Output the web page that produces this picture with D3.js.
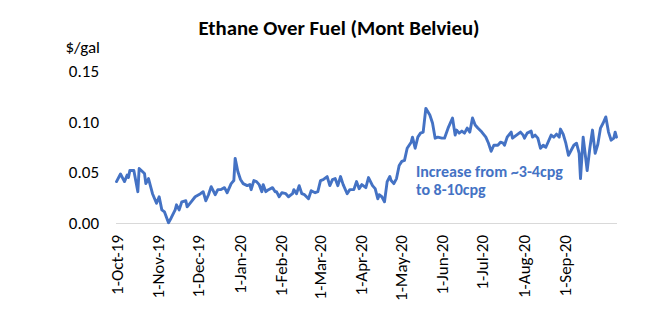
<!DOCTYPE html>
<html><head><meta charset="utf-8">
<script src="https://cdn.jsdelivr.net/npm/d3@7"></script>
<style>body{margin:0;background:#fff}svg{display:block}</style>
</head><body>
<svg id="c" width="670" height="331"></svg>
<script>
const title = "Ethane Over Fuel (Mont Belvieu)";
const yUnit = "$/gal";
const yTicks = [0, 0.05, 0.10, 0.15];
const xTickDates = ["2019-10-01","2019-11-01","2019-12-01","2020-01-01","2020-02-01","2020-03-01","2020-04-01","2020-05-01","2020-06-01","2020-07-01","2020-08-01","2020-09-01"];
const annotation = ["Increase from ~3-4cpg", "to 8-10cpg"];
const dates = ["2019-10-01","2019-10-04","2019-10-07","2019-10-09","2019-10-10","2019-10-11","2019-10-14","2019-10-17","2019-10-18","2019-10-22","2019-10-23","2019-10-25","2019-10-28","2019-10-31","2019-11-02","2019-11-04","2019-11-06","2019-11-09","2019-11-11","2019-11-14","2019-11-15","2019-11-17","2019-11-19","2019-11-22","2019-11-23","2019-11-26","2019-11-29","2019-12-03","2019-12-05","2019-12-07","2019-12-09","2019-12-11","2019-12-14","2019-12-16","2019-12-18","2019-12-21","2019-12-23","2019-12-26","2019-12-28","2019-12-29","2019-12-31","2020-01-02","2020-01-04","2020-01-07","2020-01-09","2020-01-10","2020-01-12","2020-01-14","2020-01-16","2020-01-18","2020-01-19","2020-01-21","2020-01-23","2020-01-26","2020-01-28","2020-01-29","2020-01-31","2020-02-02","2020-02-05","2020-02-07","2020-02-10","2020-02-11","2020-02-13","2020-02-15","2020-02-17","2020-02-19","2020-02-22","2020-02-24","2020-02-27","2020-02-29","2020-03-02","2020-03-04","2020-03-07","2020-03-09","2020-03-11","2020-03-13","2020-03-15","2020-03-17","2020-03-19","2020-03-22","2020-03-24","2020-03-27","2020-03-29","2020-03-31","2020-04-02","2020-04-05","2020-04-07","2020-04-10","2020-04-12","2020-04-14","2020-04-15","2020-04-17","2020-04-19","2020-04-21","2020-04-23","2020-04-24","2020-04-26","2020-04-28","2020-04-30","2020-05-02","2020-05-04","2020-05-06","2020-05-09","2020-05-10","2020-05-12","2020-05-14","2020-05-16","2020-05-18","2020-05-20","2020-05-23","2020-05-25","2020-05-27","2020-05-29","2020-06-01","2020-06-03","2020-06-06","2020-06-09","2020-06-11","2020-06-12","2020-06-14","2020-06-16","2020-06-18","2020-06-20","2020-06-22","2020-06-24","2020-06-26","2020-06-28","2020-07-01","2020-07-04","2020-07-06","2020-07-08","2020-07-10","2020-07-13","2020-07-15","2020-07-17","2020-07-18","2020-07-20","2020-07-23","2020-07-24","2020-07-27","2020-07-30","2020-08-01","2020-08-02","2020-08-04","2020-08-07","2020-08-08","2020-08-10","2020-08-12","2020-08-14","2020-08-16","2020-08-18","2020-08-19","2020-08-22","2020-08-24","2020-08-26","2020-08-28","2020-08-29","2020-08-31","2020-09-02","2020-09-04","2020-09-06","2020-09-08","2020-09-10","2020-09-12","2020-09-13","2020-09-15","2020-09-18","2020-09-20","2020-09-22","2020-09-24","2020-09-26","2020-09-28","2020-09-30","2020-10-02","2020-10-04","2020-10-06","2020-10-08","2020-10-09","2020-10-10"];
const values = [0.041,0.0485,0.041,0.0475,0.045,0.052,0.052,0.031,0.054,0.049,0.039,0.044,0.029,0.0195,0.026,0.013,0.011,0.0003,0.005,0.013,0.018,0.013,0.021,0.022,0.016,0.021,0.026,0.029,0.031,0.022,0.028,0.036,0.028,0.033,0.033,0.035,0.030,0.039,0.042,0.064,0.051,0.043,0.039,0.037,0.038,0.033,0.042,0.041,0.038,0.031,0.038,0.031,0.033,0.035,0.031,0.031,0.026,0.030,0.029,0.026,0.029,0.033,0.029,0.037,0.029,0.028,0.024,0.032,0.030,0.031,0.042,0.043,0.046,0.037,0.043,0.044,0.037,0.046,0.038,0.029,0.033,0.033,0.041,0.034,0.038,0.035,0.045,0.037,0.034,0.024,0.028,0.026,0.021,0.041,0.046,0.042,0.039,0.044,0.057,0.061,0.062,0.074,0.080,0.085,0.074,0.085,0.089,0.090,0.1135,0.107,0.099,0.084,0.085,0.084,0.084,0.095,0.104,0.087,0.092,0.089,0.091,0.089,0.094,0.090,0.104,0.097,0.094,0.090,0.085,0.079,0.071,0.077,0.077,0.080,0.079,0.077,0.085,0.090,0.084,0.087,0.090,0.087,0.084,0.089,0.091,0.085,0.087,0.084,0.074,0.077,0.075,0.078,0.087,0.085,0.088,0.085,0.093,0.088,0.079,0.067,0.072,0.077,0.079,0.069,0.044,0.085,0.052,0.074,0.092,0.069,0.078,0.094,0.099,0.105,0.090,0.082,0.084,0.090,0.085];

const parse = d3.utcParse("%Y-%m-%d");
const fmtTick = d3.utcFormat("%-d-%b-%y");
const data = dates.map((d,i)=>({date:parse(d), v:values[i]}));

const svg = d3.select("#c");
const font = "Carlito, Lato, 'Open Sans', sans-serif";
const x = d3.scaleUtc().domain([parse("2019-10-01"), parse("2020-10-10")]).range([116.5, 616.5]);
const y = d3.scaleLinear().domain([0, 0.15]).range([223, 71.5]);

svg.append("text").attr("x", 339).attr("y", 35).attr("text-anchor","middle")
  .attr("font-family", font).attr("font-weight","bold").attr("font-size", 20.8).attr("fill","#000").text(title);

svg.append("text").attr("x", 100).attr("y", 52.5).attr("text-anchor","end")
  .attr("font-family", font).attr("font-size", 17).attr("fill","#000").text(yUnit);

const yAxis = svg.append("g").attr("transform","translate(99,0)")
  .call(d3.axisLeft(y).tickValues(yTicks).tickFormat(d3.format(".2f")).tickSize(0).tickPadding(0));
yAxis.select(".domain").remove();
yAxis.selectAll("text").attr("font-family", font).attr("font-size", 17).attr("fill","#000");

const xAxis = svg.append("g").attr("transform","translate(0,223)")
  .call(d3.axisBottom(x).tickValues(xTickDates.map(parse)).tickFormat(fmtTick).tickSize(0));
xAxis.select(".domain").attr("stroke","#d9d9d9").attr("stroke-width",1.2).attr("d","M116,0.5H617");
xAxis.selectAll("text").attr("font-family", font).attr("font-size", 17).attr("fill","#000")
  .attr("text-anchor","end").attr("dy","0.35em").attr("transform","translate(0,12) rotate(-90)").attr("x",0).attr("y",0);

svg.append("path").datum(data)
  .attr("fill","none").attr("stroke","#4472C4").attr("stroke-width",2.9).attr("stroke-linejoin","round").attr("stroke-linecap","round")
  .attr("d", d3.line().x(d=>x(d.date)).y(d=>y(d.v)));

const ann = svg.append("text").attr("font-family", font).attr("font-weight","bold").attr("font-size", 16).attr("fill","#4472C4");
annotation.forEach((t,i)=>ann.append("tspan").attr("x",416).attr("y",177 + i*18).text(t));
</script>
</body></html>
